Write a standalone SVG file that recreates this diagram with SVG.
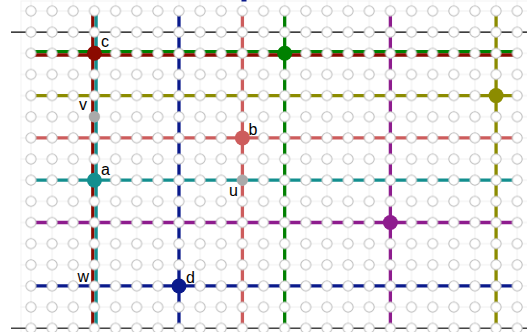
<svg xmlns="http://www.w3.org/2000/svg" width="527" height="332" viewBox="0 0 527 332">
<style>
.ln{fill:none;stroke-width:3.3}
.lbl{font-family:"Liberation Sans",Arial,sans-serif;font-size:16px;fill:#000}
.node{stroke:none}
</style>
<defs>
<pattern id="gridLines" patternUnits="userSpaceOnUse" x="20.43" y="0.425" width="21.14" height="21.15">
<path d="M10.57 0V21.15M0 10.575H21.14" stroke="#f0f0f0" stroke-width="1" fill="none"/>
</pattern>
<pattern id="dots" patternUnits="userSpaceOnUse" x="20.43" y="0.425" width="21.14" height="21.15">
<circle cx="10.57" cy="10.575" r="5" fill="#fff" stroke="#bdbdbd" stroke-width="1"/>
</pattern>
</defs>
<rect width="527" height="332" fill="#fff"/>
<rect x="21" y="1" width="520" height="340" fill="none" stroke="#f3f3f3" stroke-width="1"/>
<rect x="20.43" y="0.425" width="507" height="332" fill="url(#gridLines)"/>
<rect x="241.5" y="0" width="5" height="1.5" fill="#0a1a8c"/>
<g id="connectors">
<line x1="11" y1="32.15" x2="527" y2="32.15" stroke="#000" stroke-width="1.3"/>
<line x1="11" y1="328.25" x2="527" y2="328.25" stroke="#444" stroke-width="1.6"/>
<line class="ln" x1="31" y1="51.6" x2="517.22" y2="51.6" stroke="#008000"/>
<line class="ln" x1="31" y1="55" x2="517.22" y2="55" stroke="#8b0a00"/>
<line class="ln" x1="31" y1="95.6" x2="517.22" y2="95.6" stroke="#8c8c00"/>
<line class="ln" x1="31" y1="137.9" x2="517.22" y2="137.9" stroke="#cd5c5c"/>
<line class="ln" x1="31" y1="180.2" x2="517.22" y2="180.2" stroke="#138f8f"/>
<line class="ln" x1="31" y1="222.5" x2="517.22" y2="222.5" stroke="#8e1c8e"/>
<line class="ln" x1="31" y1="285.95" x2="517.22" y2="285.95" stroke="#0a1a8c"/>
<line class="ln" x1="92.8" y1="11" x2="92.8" y2="332" stroke="#8b0a00"/>
<line class="ln" x1="96.1" y1="11" x2="96.1" y2="332" stroke="#138f8f"/>
<line class="ln" x1="178.98" y1="11" x2="178.98" y2="332" stroke="#0a1a8c"/>
<line class="ln" x1="242.4" y1="11" x2="242.4" y2="332" stroke="#cd5c5c"/>
<line class="ln" x1="284.68" y1="11" x2="284.68" y2="332" stroke="#008000"/>
<line class="ln" x1="390.38" y1="11" x2="390.38" y2="332" stroke="#8e1c8e"/>
<line class="ln" x1="496.08" y1="11" x2="496.08" y2="332" stroke="#8c8c00"/>
</g>
<rect x="20.43" y="0.425" width="507" height="332" fill="url(#dots)"/>
<g id="node-c"><circle class="node" cx="94.42" cy="53.3" r="7.5" fill="#8b0a00"/><text class="lbl" x="101" y="47">c</text></g>
<g id="node-green"><circle class="node" cx="284.68" cy="53.3" r="7.5" fill="#008000"/></g>
<g id="node-olive"><circle class="node" cx="496.08" cy="95.6" r="7.5" fill="#8c8c00"/></g>
<g id="node-v"><circle class="node" cx="94.42" cy="116.75" r="5.5" fill="#aaaaaa"/><text class="lbl" x="79" y="110">v</text></g>
<g id="node-b"><circle class="node" cx="242.4" cy="137.9" r="7.5" fill="#cd5c5c"/><text class="lbl" x="248.5" y="135">b</text></g>
<g id="node-a"><circle class="node" cx="94.42" cy="180.2" r="7.5" fill="#138f8f"/><text class="lbl" x="101" y="175">a</text></g>
<g id="node-u"><circle class="node" cx="242.4" cy="180.2" r="5.5" fill="#aaaaaa"/><text class="lbl" x="229" y="196">u</text></g>
<g id="node-purple"><circle class="node" cx="390.38" cy="222.5" r="7.5" fill="#8e1c8e"/></g>
<g id="node-w"><text class="lbl" x="77.5" y="281.7">w</text></g>
<g id="node-d"><circle class="node" cx="178.98" cy="285.95" r="7.5" fill="#0a1a8c"/><text class="lbl" x="186" y="282.7">d</text></g>
</svg>
